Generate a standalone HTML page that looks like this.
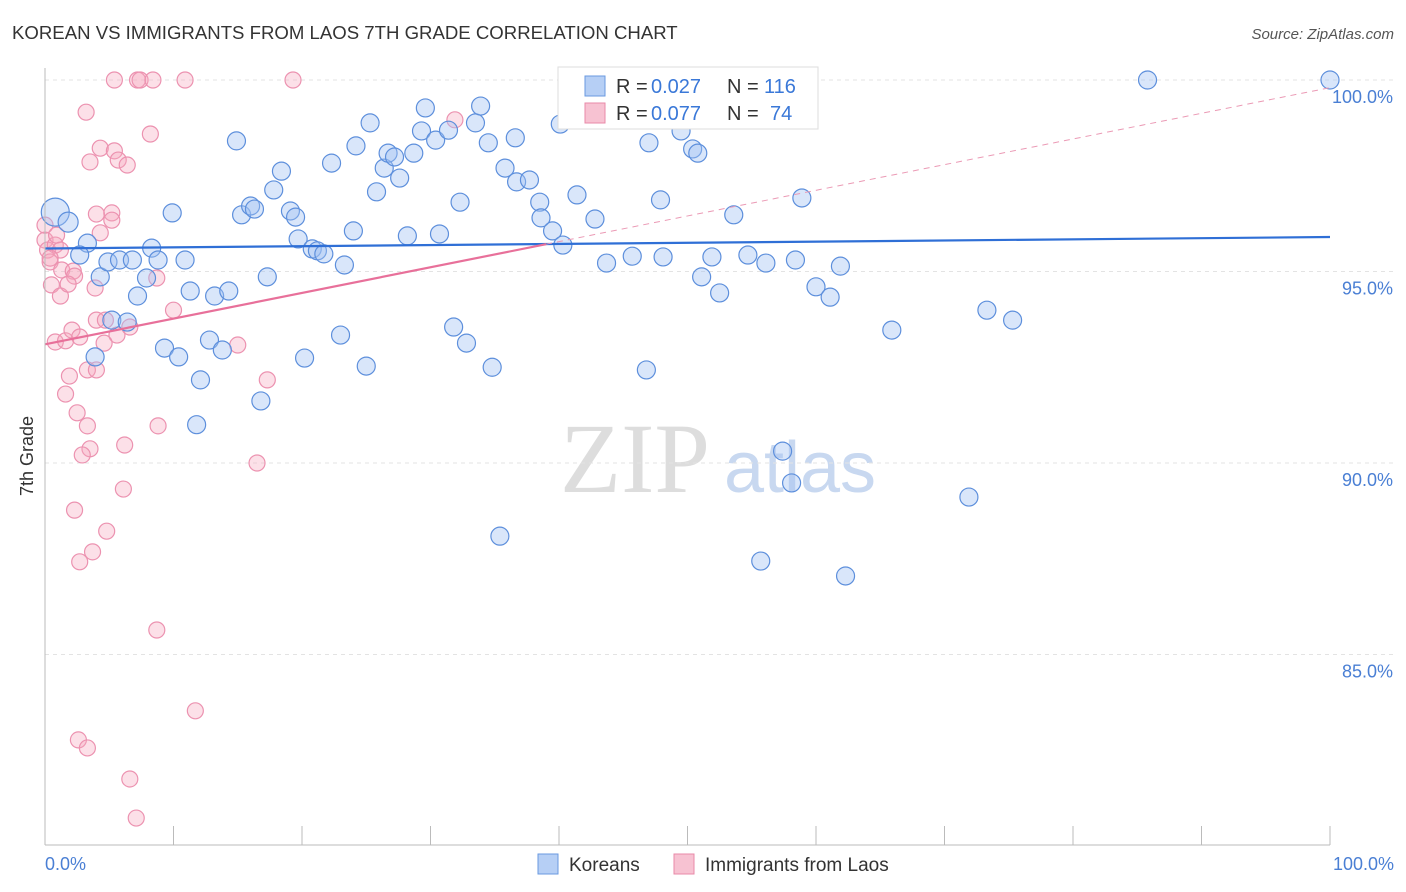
<!DOCTYPE html>
<html><head><meta charset="utf-8"><style>
body{margin:0;background:#fff;font-family:"Liberation Sans",sans-serif;}
#wrap{position:relative;width:1406px;height:892px;overflow:hidden;}
</style></head><body><div id="wrap">
<svg id="svg" width="1406" height="892" xmlns="http://www.w3.org/2000/svg">
<text x="12" y="39" font-size="18.6" fill="#333">KOREAN VS IMMIGRANTS FROM LAOS 7TH GRADE CORRELATION CHART</text>
<text x="1394" y="39" font-size="15" fill="#555" text-anchor="end" font-style="italic">Source: ZipAtlas.com</text>
<text x="33" y="456" font-size="18" fill="#333" text-anchor="middle" transform="rotate(-90 33 456)">7th Grade</text>
<text x="635" y="492" font-size="100" fill="#ddd" text-anchor="middle" font-family="Liberation Serif,serif">ZIP</text>
<text x="800" y="492" font-size="72" fill="#c8d8f0" text-anchor="middle">atlas</text>
<g id="grid"></g><g id="pts"></g><g id="trend"></g>
<line x1="45" y1="68" x2="45" y2="845" stroke="#bbb"/>
<line x1="45" y1="845" x2="1330" y2="845" stroke="#bbb"/>
<text x="45" y="870" font-size="18" fill="#4a7fd4">0.0%</text>
<text x="1394" y="870" font-size="18" fill="#4a7fd4" text-anchor="end">100.0%</text>
<g>
<rect x="558" y="67" width="260" height="62" fill="#fff" stroke="#ddd"/>
<rect x="585" y="76" width="20" height="20" fill="#b6cff5" stroke="#6a9ae0"/>
<rect x="585" y="103" width="20" height="20" fill="#f7c2d2" stroke="#e88aa8"/>
<text x="616" y="93" font-size="20" fill="#333">R =</text>
<text x="651" y="93" font-size="20" fill="#3a78d8">0.027</text>
<text x="727" y="93" font-size="20" fill="#333">N =</text>
<text x="764" y="93" font-size="20" fill="#3a78d8">116</text>
<text x="616" y="120" font-size="20" fill="#333">R =</text>
<text x="651" y="120" font-size="20" fill="#3a78d8">0.077</text>
<text x="727" y="120" font-size="20" fill="#333">N =</text>
<text x="770" y="120" font-size="20" fill="#3a78d8">74</text>
</g>
<g>
<rect x="538" y="854" width="20" height="20" fill="#b6cff5" stroke="#6a9ae0"/>
<text x="569" y="871" font-size="19" fill="#333">Koreans</text>
<rect x="674" y="854" width="20" height="20" fill="#f7c2d2" stroke="#e88aa8"/>
<text x="705" y="871" font-size="19" fill="#333">Immigrants from Laos</text>
</g>
</svg></div>
<script>
const yTicks=[100,95,90,85];
const xTickVals=[0,10,20,30,40,50,60,70,80,90,100];
const blueX=[0.8,1.8,3.3,4.3,2.7,4.9,5.8,6.8,7.2,7.9,8.3,8.8,9.9,10.9,11.3,13.2,14.3,9.3,10.4,12.8,13.8,12.1,11.8,3.9,5.2,6.4,14.9,15.3,16.0,16.3,17.3,17.8,18.4,19.1,19.5,19.7,20.8,21.2,21.7,22.3,23.3,24.0,24.2,25.3,25.8,26.4,26.7,27.2,27.6,28.2,28.7,29.6,29.3,30.4,30.7,31.4,32.3,33.5,33.9,34.5,35.8,36.6,36.7,37.7,38.5,38.6,39.5,40.3,40.1,40.7,41.4,42.4,42.8,43.7,45.7,47.0,47.9,48.1,48.8,49.5,50.4,50.8,51.1,51.9,52.5,53.6,54.4,54.7,56.1,58.4,58.9,60.0,61.1,61.9,65.9,73.3,75.3,85.8,100,23.0,25.0,31.8,32.8,34.8,46.8,20.2,16.8,35.4,57.4,58.1,55.7,62.3,71.9];
const blueY=[96.55,96.29,95.74,94.86,95.43,95.25,95.3,95.3,94.36,94.83,95.61,95.3,96.53,95.3,94.49,94.36,94.49,93.0,92.77,93.21,92.95,92.17,91.0,92.77,93.73,93.68,98.41,96.48,96.71,96.63,94.86,97.13,97.62,96.58,96.42,95.85,95.59,95.54,95.46,97.83,95.17,96.06,98.28,98.88,97.08,97.7,98.09,97.99,97.44,95.93,98.09,99.27,98.67,98.43,95.98,98.69,96.81,98.88,99.32,98.36,97.7,98.49,97.34,97.39,96.81,96.4,96.06,95.69,98.85,100,97.0,99.09,96.37,95.22,95.4,98.36,96.87,95.38,100,98.67,98.2,98.09,94.86,95.38,94.44,96.48,100,95.43,95.22,95.3,96.92,94.6,94.33,95.14,93.47,93.99,93.73,100,100,93.34,92.53,93.55,93.13,92.5,92.43,92.74,91.62,88.09,90.31,89.48,87.44,87.05,89.11];
const pinkX=[0,0.2,0.4,0.8,0.9,1.2,0.5,1.2,1.3,2.2,2.3,1.8,3.9,0.8,1.6,2.1,2.7,4.0,4.7,5.6,4.6,6.6,10.0,15.0,17.3,1.9,1.6,3.3,4.0,2.5,3.3,3.5,2.9,6.2,8.8,16.5,6.1,2.3,4.8,3.7,2.7,8.7,11.7,2.6,3.3,6.6,7.1,3.2,3.5,4.3,5.4,5.7,6.4,8.2,4.0,5.2,4.3,5.2,8.7,5.4,7.2,7.4,8.4,10.9,19.3,31.9,42.3,0,0.4];
const pinkY=[95.82,95.56,95.25,95.69,95.95,95.56,94.65,94.36,95.04,95.01,94.88,94.67,94.57,93.16,93.19,93.47,93.29,93.73,93.73,93.34,93.13,93.55,93.99,93.08,92.17,92.27,91.8,92.43,92.43,91.31,90.97,90.37,90.21,90.47,90.97,90.0,89.32,88.77,88.22,87.68,87.42,85.64,83.53,82.77,82.56,81.75,80.73,99.16,97.86,98.22,98.15,97.91,97.78,98.59,96.5,96.53,96.01,96.34,94.83,100,100,100,100,100,100,98.96,99.09,96.21,95.35];
const blueSize=[14,10];
const blueTrend=[95.6,95.9];
const pinkTrend=[93.1,99.8];
const pinkSolidEnd=39;
const NS='http://www.w3.org/2000/svg';
const xs=v=>45+v*12.85, ys=v=>80+(100-v)*38.3;
function mk(t,a,p){const e=document.createElementNS(NS,t);for(const k in a)e.setAttribute(k,a[k]);p.appendChild(e);return e;}
const grid=document.getElementById('grid'),pts=document.getElementById('pts'),tr=document.getElementById('trend');
yTicks.forEach(v=>{
 const l=mk('line',{x1:45,x2:1394,y1:ys(v),y2:ys(v),stroke:'#e3e3e3','stroke-dasharray':'4,4'},grid);
 
 
 const t=mk('text',{x:1393,y:ys(v)+23,'font-size':18,fill:'#4a7fd4','text-anchor':'end'},grid);
 t.textContent=v.toFixed(1)+'%';
 
 
});
xTickVals.forEach(v=>{
 const l=mk('line',{x1:xs(v),x2:xs(v),y1:826,y2:845,stroke:'#bbb'},grid);
 
 
});
pinkX.forEach((x,i)=>{
 const c=mk('circle',{cx:xs(x),cy:ys(pinkY[i]),r:8,fill:'rgba(245,165,190,0.35)',stroke:'#ec92b0','stroke-width':1.2},pts);
 
 
});
blueX.forEach((x,i)=>{
 const c=mk('circle',{cx:xs(x),cy:ys(blueY[i]),r:blueSize[i]||9,fill:'rgba(160,192,242,0.4)',stroke:'#5d8fdc','stroke-width':1.2},pts);
 
 
});
const bl=mk('line',{x1:xs(0),y1:ys(blueTrend[0]),x2:xs(100),y2:ys(blueTrend[1]),stroke:'#2f6fd6','stroke-width':2.2},tr);


const pAt=x=>pinkTrend[0]+(pinkTrend[1]-pinkTrend[0])*x/100;
const p1=mk('line',{x1:xs(0),y1:ys(pAt(0)),x2:xs(pinkSolidEnd),y2:ys(pAt(pinkSolidEnd)),stroke:'#e8709a','stroke-width':2.2},tr);


const p2=mk('line',{x1:xs(pinkSolidEnd),y1:ys(pAt(pinkSolidEnd)),x2:xs(100),y2:ys(pAt(100)),stroke:'#eb9ab5','stroke-width':1,'stroke-dasharray':'6,5'},tr);


</script></body></html>
